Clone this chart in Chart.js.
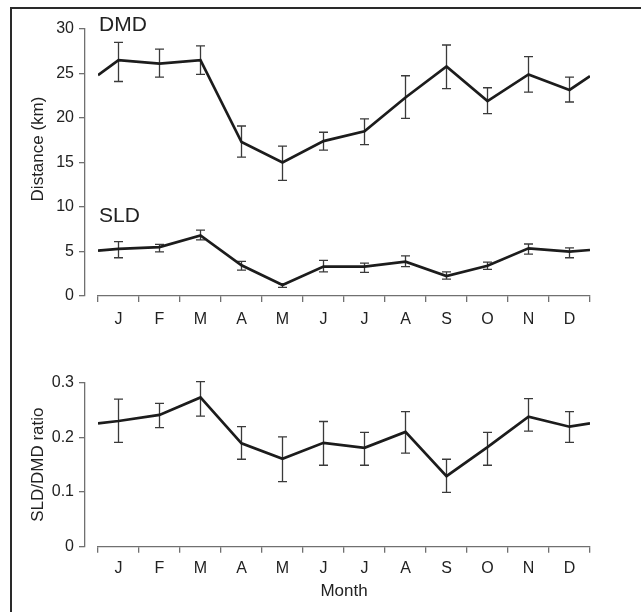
<!DOCTYPE html>
<html><head><meta charset="utf-8">
<script src="https://cdn.jsdelivr.net/npm/chart.js@4/dist/chart.umd.min.js"></script>
<style>
html,body{margin:0;padding:0;background:#fff;width:641px;height:612px;overflow:hidden;}
#frame{position:absolute;left:10px;top:7px;width:700px;height:700px;border:2px solid #2a2a2a;box-sizing:border-box}
#c1{position:absolute;left:0;top:0}
#c2{position:absolute;left:0;top:340px}
</style></head><body>
<div id="frame"></div>
<canvas id="c1" width="641" height="340"></canvas>
<canvas id="c2" width="641" height="272"></canvas>
<script>
const months = ['J','F','M','A','M','J','J','A','S','O','N','D'];
const dmdMean  = [26.5, 26.1, 26.5, 17.3, 15.0, 17.4, 18.5, 22.3, 25.8, 21.9, 24.9, 23.15];
const dmdUpper = [28.5, 27.75, 28.1, 19.1, 16.85, 18.4, 19.9, 24.75, 28.2, 23.4, 26.9, 24.6];
const dmdLower = [24.1, 24.6, 24.9, 15.6, 13.0, 16.4, 17.0, 19.95, 23.3, 20.5, 22.9, 21.8];
const dmdEdges = [24.8, 24.7];
const sldMean  = [5.3, 5.5, 6.8, 3.45, 1.24, 3.3, 3.3, 3.85, 2.25, 3.4, 5.36, 4.98];
const sldUpper = [6.1, 5.8, 7.4, 3.9, 1.4, 4.0, 3.7, 4.5, 2.7, 3.8, 5.84, 5.4];
const sldLower = [4.3, 4.95, 6.3, 2.9, 0.97, 2.7, 2.65, 3.3, 1.9, 3.0, 4.7, 4.3];
const sldEdges = [5.1, 5.17];
const ratioMean  = [0.230, 0.241, 0.273, 0.189, 0.161, 0.190, 0.181, 0.210, 0.129, 0.182, 0.238, 0.2195];
const ratioUpper = [0.270, 0.262, 0.302, 0.2195, 0.201, 0.229, 0.209, 0.247, 0.160, 0.209, 0.271, 0.247];
const ratioLower = [0.191, 0.218, 0.239, 0.160, 0.119, 0.149, 0.149, 0.171, 0.0995, 0.149, 0.2116, 0.191];
const ratioEdges = [0.2257, 0.2257];
const distTicks = [0, 5, 10, 15, 20, 25, 30];
const ratioTicks = [0, 0.1, 0.2, 0.3];
const ratioTickLabels = ['0', '0.1', '0.2', '0.3'];

Chart.defaults.font.family = '"Liberation Sans", Arial, Helvetica, sans-serif';
Chart.defaults.color = '#222';

function toPoints(mean, edges) {
  return [{x: 0, y: edges[0]}]
    .concat(mean.map((v, i) => ({x: i + 0.5, y: v})))
    .concat([{x: months.length, y: edges[1]}]);
}

const AXIS = '#707070';

const errorBars = {
  id: 'errorBars',
  beforeDatasetsDraw(chart) {
    const ctx = chart.ctx, xs = chart.scales.x, ys = chart.scales.y;
    chart.data.datasets.forEach(ds => {
      if (!ds.errLow) return;
      ctx.save();
      ctx.strokeStyle = '#3a3a3a';
      ctx.lineWidth = 1.3;
      ds.errLow.forEach((lo, i) => {
        const x = xs.getPixelForValue(i + 0.5);
        const y1 = ys.getPixelForValue(ds.errHigh[i]);
        const y2 = ys.getPixelForValue(lo);
        ctx.beginPath();
        ctx.moveTo(x, y1); ctx.lineTo(x, y2);
        ctx.moveTo(x - 4.5, y1); ctx.lineTo(x + 4.5, y1);
        ctx.moveTo(x - 4.5, y2); ctx.lineTo(x + 4.5, y2);
        ctx.stroke();
      });
      ctx.restore();
    });
  }
};

const topTexts = {
  id: 'topTexts',
  afterDraw(chart) {
    const ctx = chart.ctx;
    ctx.save();
    ctx.fillStyle = '#222';
    ctx.font = '21px "Liberation Sans", Arial, sans-serif';
    ctx.textAlign = 'left';
    ctx.textBaseline = 'alphabetic';
    ctx.fillText('DMD', 99, 31);
    ctx.fillText('SLD', 99, 221.5);
    ctx.font = '17px "Liberation Sans", Arial, sans-serif';
    ctx.translate(38, 149);
    ctx.rotate(-Math.PI / 2);
    ctx.textAlign = 'center';
    ctx.textBaseline = 'middle';
    ctx.fillText('Distance (km)', 0, 0);
    ctx.restore();
  }
};

function xScale(height, padding, title) {
  return {
    type: 'linear', position: 'bottom', min: 0, max: months.length,
    afterBuildTicks: s => { s.ticks = months.map((m, i) => ({value: i})).concat([{value: months.length}]); },
    ticks: {
      autoSkip: false, maxRotation: 0, minRotation: 0, labelOffset: 20.5, padding: padding,
      color: '#222', font: {size: 16},
      callback: v => months[v] !== undefined ? months[v] : ''
    },
    grid: {drawOnChartArea: false, drawTicks: true, tickLength: 6, color: AXIS, lineWidth: 1.3},
    border: {display: true, color: AXIS, width: 1.3},
    title: title || {display: false},
    afterFit: s => { s.height = height; }
  };
}

function yScales(min, max, ticks, labels, title) {
  return {
    y: {
      type: 'linear', position: 'left', weight: 1, min: min, max: max,
      afterBuildTicks: s => { s.ticks = ticks.map(v => ({value: v})); },
      ticks: {
        padding: 5, color: '#222', font: {size: 16}, autoSkip: false,
        callback: (v, i) => labels ? labels[i] : String(v)
      },
      grid: {drawOnChartArea: false, drawTicks: true, tickLength: 6, color: AXIS, lineWidth: 1.3},
      border: {display: true, color: AXIS, width: 1.3},
      title: title || {display: false},
      afterFit: s => { s.width = 85; }
    },
    yPad: {
      type: 'linear', position: 'left', weight: 0, display: true, min: min, max: max,
      ticks: {display: false}, grid: {display: false}, border: {display: false},
      afterFit: s => { s.width = 13; }
    }
  };
}

const lineStyle = {borderColor: '#1c1c1c', borderWidth: 2.7, pointRadius: 0, tension: 0, fill: false, xAxisID: 'x', yAxisID: 'y'};

new Chart(document.getElementById('c1'), {
  type: 'line',
  data: {
    datasets: [
      Object.assign({label: 'DMD', data: toPoints(dmdMean, dmdEdges), errLow: dmdLower, errHigh: dmdUpper}, lineStyle),
      Object.assign({label: 'SLD', data: toPoints(sldMean, sldEdges), errLow: sldLower, errHigh: sldUpper}, lineStyle)
    ]
  },
  options: {
    responsive: false, animation: false,
    layout: {padding: {left: 0, right: 51, top: 29, bottom: 0}},
    plugins: {legend: {display: false}, tooltip: {enabled: false}},
    scales: Object.assign({x: xScale(44, 7.5)}, yScales(0, 30, distTicks, null, null))
  },
  plugins: [errorBars, topTexts]
});

new Chart(document.getElementById('c2'), {
  type: 'line',
  data: {
    datasets: [
      Object.assign({label: 'SLD/DMD ratio', data: toPoints(ratioMean, ratioEdges), errLow: ratioLower, errHigh: ratioUpper}, lineStyle)
    ]
  },
  options: {
    responsive: false, animation: false,
    layout: {padding: {left: 0, right: 51, top: 42.7, bottom: 0}},
    plugins: {legend: {display: false}, tooltip: {enabled: false}},
    scales: Object.assign(
      {x: xScale(65.3, 6.5, {display: true, text: 'Month', color: '#222', font: {size: 17}, padding: {top: 0, bottom: 10}})},
      yScales(0, 0.3, ratioTicks, ratioTickLabels, {display: true, text: 'SLD/DMD ratio', color: '#222', font: {size: 17}, padding: {top: 28, bottom: 0}})
    )
  },
  plugins: [errorBars]
});
</script>
</body></html>
